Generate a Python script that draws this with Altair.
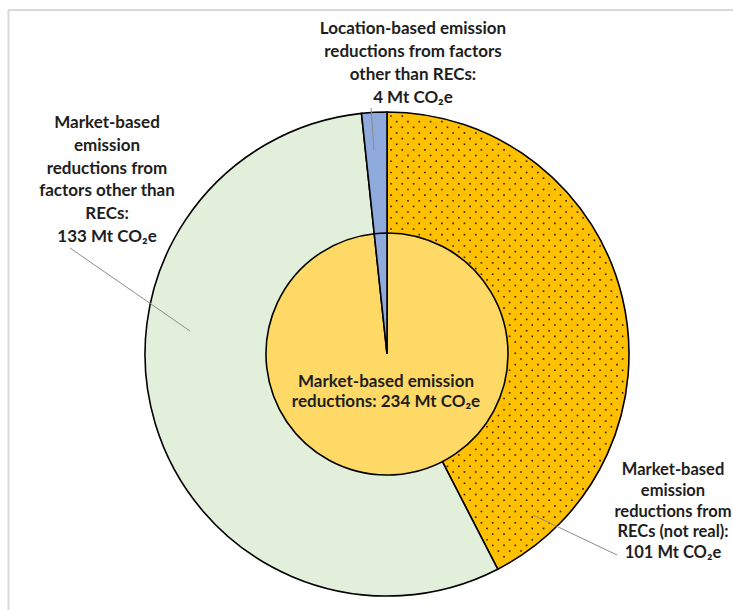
import altair as alt
import pandas as pd

# ---- data ----
outer_cats = ["RECs (not real)", "Other market-based factors", "Location-based other factors"]
outer_vals = [101, 133, 4]
inner_cats = ["Market-based total", "Location-based other factors"]
inner_vals = [234, 4]

color_domain = ["RECs (not real)", "Other market-based factors",
                "Location-based other factors", "Market-based total"]
color_range = ["#FFC000", "#E2EFDA", "#8FAADC", "#FFD966"]

label_top = ["Location-based emission", "reductions from factors",
             "other than RECs:", "4 Mt CO₂e"]
label_left = ["Market-based", "emission", "reductions from",
              "factors other than", "RECs:", "133 Mt CO₂e"]
label_right = ["Market-based", "emission", "reductions from",
               "RECs (not real):", "101 Mt CO₂e"]
label_center = ["Market-based emission", "reductions: 234 Mt CO₂e"]

# ---- layout ----
W, H = 733, 610
CX, CY = 387, 354
R_OUT, R_IN = 242, 121
FONT = "Lato"
TXT = "#1e1e1e"

outer_df = pd.DataFrame({"cat": outer_cats, "val": outer_vals, "ord": list(range(len(outer_cats)))})
inner_df = pd.DataFrame({"cat": inner_cats, "val": inner_vals, "ord": list(range(len(inner_cats)))})

color = alt.Color("cat:N", scale=alt.Scale(domain=color_domain, range=color_range), legend=None)

outer = alt.Chart(outer_df).mark_arc(
    outerRadius=R_OUT, innerRadius=0, stroke="black", strokeWidth=1.6
).encode(
    theta=alt.Theta("val:Q", stack=True),
    order=alt.Order("ord:Q"),
    color=color,
    x=alt.value(CX), y=alt.value(CY),
)

inner = alt.Chart(inner_df).mark_arc(
    outerRadius=R_IN, innerRadius=0, stroke="black", strokeWidth=1.6
).encode(
    theta=alt.Theta("val:Q", stack=True),
    order=alt.Order("ord:Q"),
    color=color,
    x=alt.value(CX), y=alt.value(CY),
)

# dotted texture on the RECs wedge
gold_end = outer_vals[0] / sum(outer_vals) * 360
NC = 23
NR = 88
dots = alt.Chart(alt.sequence(0, NC * NR, as_="i")).transform_calculate(
    row="floor(datum.i / %d)" % NC, col="datum.i %% %d" % NC
).transform_calculate(
    px="%f + datum.col*11.3 + (datum.row %% 2)*5.65" % (CX + 4),
    py="%f + datum.row*5.65" % (CY - R_OUT + 4),
).transform_calculate(
    dx="datum.px - %f" % CX, dy="datum.py - %f" % CY
).transform_calculate(
    rr="sqrt(datum.dx*datum.dx + datum.dy*datum.dy)",
    ang="(atan2(datum.dx, -datum.dy)*180/PI + 360) % 360",
).transform_filter(
    "datum.rr < %f && datum.rr > %f && datum.ang > 0.5 && datum.ang < %f"
    % (R_OUT - 3, R_IN + 2, gold_end - 1.0)
).mark_square(size=2.6, color="#111111", opacity=0.9).encode(
    x=alt.X("px:Q", scale=None, axis=None),
    y=alt.Y("py:Q", scale=None, axis=None),
)

one = pd.DataFrame({"a": [0]})


def leader(x1, y1, x2, y2):
    return alt.Chart(one).mark_rule(color="#8c8c8c", strokeWidth=1).encode(
        x=alt.value(x1), y=alt.value(y1), x2=alt.value(x2), y2=alt.value(y2)
    )


def label(lines, x, y, lh, size=17):
    return alt.Chart(one).mark_text(
        font=FONT, fontSize=size, fontWeight="bold", color=TXT,
        align="center", baseline="middle", lineHeight=lh,
    ).encode(text=alt.value(lines), x=alt.value(x), y=alt.value(y))


border_top = alt.Chart(one).mark_rule(color="#d9d9d9", strokeWidth=2).encode(
    x=alt.value(8), x2=alt.value(W), y=alt.value(10), y2=alt.value(10))
border_left = alt.Chart(one).mark_rule(color="#d9d9d9", strokeWidth=2).encode(
    x=alt.value(8.5), x2=alt.value(8.5), y=alt.value(10), y2=alt.value(H))

chart = alt.layer(
    border_top, border_left,
    outer, dots, inner,
    leader(70, 248, 190, 331),
    leader(371, 108, 374, 150),
    leader(533, 515, 617, 555),
    label(label_top, 413, 29, 23),
    label(label_left, 107, 123, 22.8),
    label(label_right, 673, 470, 20.8, 16.5),
    label(label_center, 386, 382, 20),
).properties(
    width=W, height=H, padding=0, autosize=alt.AutoSizeParams(type="none")
).configure_view(stroke=None)

chart.save("out.html", embed_options={"renderer": "svg", "actions": False})
